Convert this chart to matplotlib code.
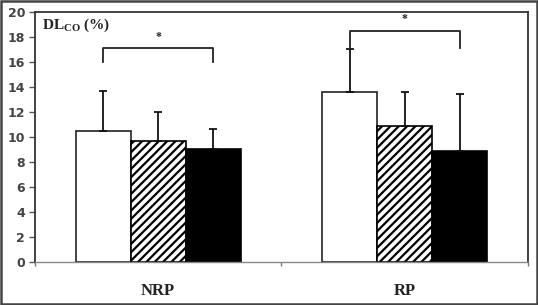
import matplotlib
matplotlib.use("Agg")
import matplotlib.pyplot as plt
import numpy as np
from matplotlib.patches import Rectangle

categories = ["NRP", "RP"]
white_vals = [10.5, 13.6]
white_err = [3.2, 3.4]
hatch_vals = [9.7, 10.9]
hatch_err = [2.3, 2.7]
black_vals = [9.0, 8.9]
black_err = [1.6, 4.5]
yticks = [0, 2, 4, 6, 8, 10, 12, 14, 16, 18, 20]
# significance brackets: (category index, top of bracket, leg bottom)
brackets = [(0, 17.1, 16.0), (1, 18.5, 17.1)]

plt.rcParams['mathtext.fontset'] = 'custom'
plt.rcParams['mathtext.rm'] = 'Liberation Serif:bold'
plt.rcParams['mathtext.bf'] = 'Liberation Serif:bold'
plt.rcParams['hatch.linewidth'] = 1.6

fig = plt.figure(figsize=(5.38, 3.05), dpi=100)
ax = fig.add_axes([0.065, 0.141, 0.916, 0.82])

x = np.arange(len(categories)) + 0.5
w = 0.223
ekw = dict(ecolor='#111111', elinewidth=1.3, capsize=2.8, capthick=1.3)
ax.bar(x - w, white_vals, w, color='white', edgecolor='#222222', linewidth=1.2,
       yerr=[[0, 0], white_err], error_kw=ekw, zorder=2)
ax.bar(x, hatch_vals, w, color='white', edgecolor='black', linewidth=1.2, hatch='////',
       yerr=[[0, 0], hatch_err], error_kw=ekw, zorder=2)
ax.bar(x + w, black_vals, w, color='black', edgecolor='black', linewidth=1.2,
       yerr=[[0, 0], black_err], error_kw=ekw, zorder=2)

for ci, top, leg in brackets:
    x0 = x[ci] - w
    x1 = x[ci] + w
    ax.plot([x0, x0, x1, x1], [leg, top, top, leg], color='#222222', lw=1.3, zorder=3)
    ax.text(x[ci], top + 0.45, '*', ha='center', va='bottom', fontsize=8.5,
            family='Liberation Serif', fontweight='bold', color='#222222')

ax.set_xlim(0, 2)
ax.set_ylim(0, 20)
ax.set_yticks(yticks)
ax.set_yticklabels([str(t) for t in yticks], fontsize=9, color='#444444',
                   family='DejaVu Sans', fontweight='bold')
ax.set_xticks([0, 1, 2])
ax.set_xticklabels([])
ax.tick_params(axis='y', direction='out', length=4, width=1, color='#555555', pad=3)
ax.tick_params(axis='x', direction='out', length=3, width=1, color='#777777')
for t, c in zip(x, categories):
    ax.text(t, -2.3, c, ha='center', va='center', fontsize=12,
            family='Liberation Serif', fontweight='bold', color='#222222')

for s in ['top', 'right', 'left']:
    ax.spines[s].set_color('#333333')
    ax.spines[s].set_linewidth(1.3)
ax.spines['bottom'].set_color('#888888')
ax.spines['bottom'].set_linewidth(1.0)

ax.text(0.03, 18.9, r'DL$_{\mathrm{CO}}$ (%)', ha='left', va='center', fontsize=11,
        family='Liberation Serif', fontweight='bold', color='#222222')

fig.patches.append(Rectangle((0.002, 0.003), 0.996, 0.994, transform=fig.transFigure,
                             fill=False, edgecolor='#444444', linewidth=1.8))

fig.savefig('out.png', dpi=100)
